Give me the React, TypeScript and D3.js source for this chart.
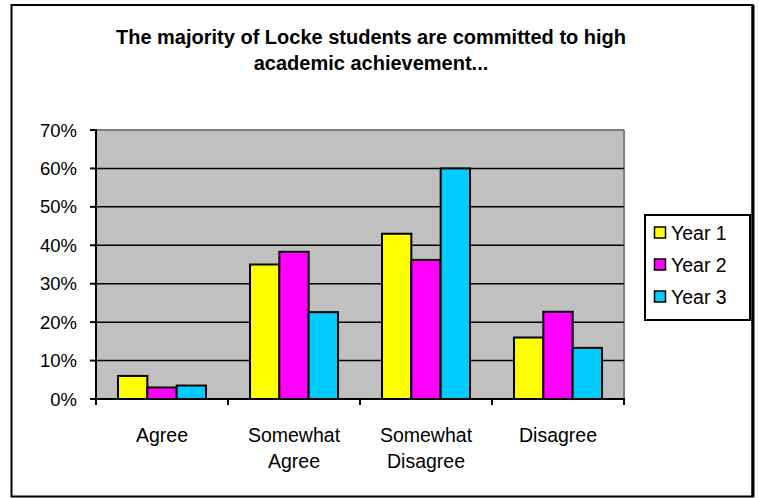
import React from "react";
import * as d3 from "d3";

const categories: string[][] = [["Agree"], ["Somewhat", "Agree"], ["Somewhat", "Disagree"], ["Disagree"]];
const seriesNames = ["Year 1", "Year 2", "Year 3"];
const year1 = [6, 35, 43, 16];
const year2 = [3, 38.3, 36.2, 22.7];
const year3 = [3.5, 22.6, 60, 13.3];
const yTicks = [0, 10, 20, 30, 40, 50, 60, 70];
const colors = ["#ffff00", "#ff00ff", "#00ccff"];
const titleLines = ["The majority of Locke students are committed to high", "academic achievement..."];

export default function App() {
  const W = 759, H = 498;
  const plot = { left: 96, right: 624, top: 130, bottom: 399 };
  const series = [year1, year2, year3];
  const x = d3.scaleBand<number>().domain(d3.range(categories.length)).range([plot.left, plot.right]).paddingInner(0).paddingOuter(0);
  const bw = x.bandwidth();
  const barW = bw / 4.5;
  const y = d3.scaleLinear().domain([0, 70]).range([plot.bottom, plot.top]);
  const font = "'Liberation Sans', Arial, sans-serif";

  return (
    <svg width={W} height={H} style={{ position: "absolute", left: 0, top: 0 }} fontFamily={font}>
      <rect x={0} y={0} width={W} height={H} fill="#fff" />
      <rect x={11.5} y={5} width={741} height={491.5} fill="#fff" stroke="#000" strokeWidth={2} />
      <line x1={753} x2={753} y1={5} y2={497} stroke="#000" strokeWidth={3} />
      {titleLines.map((t, i) => (
        <text key={i} x={371} y={44 + i * 26} textAnchor="middle" fontSize={20} fontWeight="bold" fill="#000">{t}</text>
      ))}
      <rect x={plot.left} y={plot.top} width={plot.right - plot.left} height={plot.bottom - plot.top} fill="#c0c0c0" />
      <line x1={plot.left} x2={plot.right} y1={plot.top} y2={plot.top} stroke="#808080" strokeWidth={2} />
      <line x1={plot.right} x2={plot.right} y1={plot.top} y2={plot.bottom} stroke="#808080" strokeWidth={2} />
      {yTicks.filter(v => v > 0 && v < 70).map(v => (
        <line key={v} x1={plot.left} x2={plot.right} y1={y(v)} y2={y(v)} stroke="#000" strokeWidth={1.5} />
      ))}
      {categories.map((_, ci) => series.map((s, si) => {
        const x0 = (x(ci) as number) + barW * 0.75 + si * barW;
        return (
          <rect key={ci + "-" + si} x={x0} y={y(s[ci])} width={barW} height={plot.bottom - y(s[ci])} fill={colors[si]} stroke="#000" strokeWidth={2} />
        );
      }))}
      <line x1={plot.left} x2={plot.left} y1={plot.top - 1} y2={plot.bottom} stroke="#000" strokeWidth={2} />
      <line x1={plot.left - 6} x2={plot.right + 1} y1={plot.bottom} y2={plot.bottom} stroke="#000" strokeWidth={2} />
      {yTicks.map(v => (
        <g key={v}>
          <line x1={plot.left - 6} x2={plot.left} y1={y(v)} y2={y(v)} stroke="#000" strokeWidth={2} />
          <text x={77} y={y(v) + 6.5} textAnchor="end" fontSize={18.5} fill="#000">{v + "%"}</text>
        </g>
      ))}
      {d3.range(categories.length + 1).map(i => {
        const xx = plot.left + i * bw;
        return <line key={i} x1={xx} x2={xx} y1={plot.bottom} y2={plot.bottom + 6} stroke="#000" strokeWidth={2} />;
      })}
      {categories.map((lines, ci) => (
        <text key={ci} x={(x(ci) as number) + bw / 2} y={442} textAnchor="middle" fontSize={19.5} fill="#000">
          {lines.map((l, li) => (
            <tspan key={li} x={(x(ci) as number) + bw / 2} dy={li === 0 ? 0 : 26}>{l}</tspan>
          ))}
        </text>
      ))}
      <rect x={645} y={215} width={105} height={105} fill="#fff" stroke="#000" strokeWidth={2} />
      {seriesNames.map((n, i) => (
        <g key={n}>
          <rect x={654.5} y={227 + i * 32} width={11} height={11} fill={colors[i]} stroke="#000" strokeWidth={1.5} />
          <text x={671} y={240 + i * 32} fontSize={19.5} fill="#000">{n}</text>
        </g>
      ))}
    </svg>
  );
}
